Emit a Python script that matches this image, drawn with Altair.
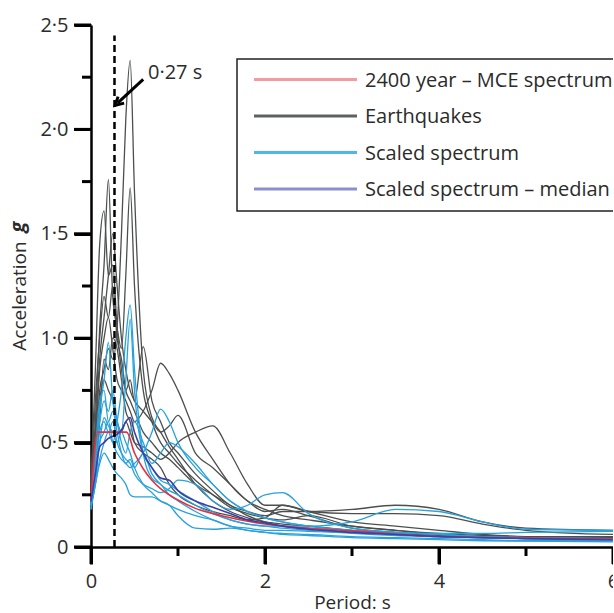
import altair as alt
import pandas as pd

# ---------------- data ----------------
periods = [0, 0.05, 0.1, 0.15, 0.2, 0.25, 0.3, 0.35, 0.4, 0.45, 0.5, 0.6, 0.7, 0.8, 0.9,
           1.0, 1.2, 1.4, 1.6, 1.8, 2.0, 2.2, 2.5, 3.0, 3.5, 4.0, 4.5, 5.0, 6.0]

eq1 = [0.28, 0.45, 0.75, 0.85, 0.95, 0.9, 1.05, 1.5, 2.05, 2.33, 1.7, 0.85, 0.62, 0.55, 0.48, 0.42, 0.3, 0.22, 0.17, 0.14, 0.12, 0.11, 0.10, 0.08, 0.065, 0.055, 0.05, 0.045, 0.04]
eq2 = [0.32, 0.6, 1.05, 1.35, 1.76, 1.2, 1.05, 0.95, 1.3, 1.72, 1.25, 0.75, 0.6, 0.5, 0.45, 0.4, 0.32, 0.25, 0.19, 0.16, 0.14, 0.13, 0.15, 0.1, 0.08, 0.065, 0.055, 0.05, 0.045]
eq3 = [0.3, 0.85, 1.45, 1.61, 1.3, 1.35, 1.05, 0.85, 0.75, 0.8, 0.7, 0.96, 0.7, 0.6, 0.5, 0.45, 0.35, 0.27, 0.2, 0.17, 0.15, 0.17, 0.17, 0.18, 0.2, 0.18, 0.12, 0.09, 0.08]
eq4 = [0.25, 0.5, 0.85, 1.0, 1.1, 0.95, 0.8, 0.75, 0.7, 0.65, 0.6, 0.65, 0.75, 0.88, 0.83, 0.75, 0.55, 0.42, 0.3, 0.22, 0.18, 0.15, 0.13, 0.1, 0.08, 0.06, 0.05, 0.045, 0.04]
eq5 = [0.22, 0.45, 0.7, 0.8, 0.75, 0.7, 0.6, 0.55, 0.6, 0.55, 0.5, 0.48, 0.45, 0.42, 0.45, 0.5, 0.55, 0.58, 0.45, 0.3, 0.2, 0.2, 0.17, 0.16, 0.16, 0.15, 0.11, 0.08, 0.06]
eq6 = [0.3, 0.7, 1.0, 1.2, 1.1, 1.25, 1.0, 0.9, 0.75, 0.7, 0.65, 0.55, 0.5, 0.45, 0.42, 0.38, 0.3, 0.25, 0.2, 0.15, 0.12, 0.1, 0.09, 0.07, 0.06, 0.05, 0.045, 0.04, 0.035]
eq7 = [0.25, 0.55, 0.9, 1.1, 1.3, 1.5, 1.25, 1.0, 0.85, 0.75, 0.7, 0.65, 0.6, 0.55, 0.58, 0.63, 0.45, 0.38, 0.3, 0.22, 0.17, 0.18, 0.15, 0.09, 0.07, 0.06, 0.05, 0.045, 0.04]
eq8 = [0.2, 0.4, 0.6, 0.9, 0.85, 1.0, 0.95, 0.8, 0.65, 0.6, 0.5, 0.45, 0.42, 0.38, 0.3, 0.25, 0.2, 0.17, 0.15, 0.13, 0.14, 0.2, 0.17, 0.12, 0.1, 0.08, 0.06, 0.05, 0.05]

sc1 = [0.2, 0.3, 0.42, 0.5, 0.55, 0.5, 0.6, 0.75, 1.0, 1.16, 0.85, 0.45, 0.33, 0.3, 0.25, 0.22, 0.17, 0.13, 0.1, 0.08, 0.07, 0.06, 0.055, 0.045, 0.04, 0.035, 0.03, 0.028, 0.025]
sc2 = [0.2, 0.4, 0.65, 0.8, 0.98, 0.7, 0.6, 0.55, 0.8, 1.09, 0.75, 0.45, 0.38, 0.32, 0.3, 0.27, 0.22, 0.17, 0.13, 0.11, 0.1, 0.09, 0.08, 0.065, 0.055, 0.05, 0.045, 0.04, 0.035]
sc3 = [0.2, 0.3, 0.5, 0.55, 0.6, 0.5, 0.45, 0.42, 0.4, 0.38, 0.4, 0.45, 0.55, 0.66, 0.6, 0.5, 0.38, 0.3, 0.22, 0.17, 0.14, 0.12, 0.1, 0.08, 0.06, 0.05, 0.045, 0.04, 0.035]
sc4 = [0.18, 0.45, 0.7, 0.75, 0.6, 0.65, 0.55, 0.45, 0.4, 0.42, 0.38, 0.45, 0.35, 0.3, 0.27, 0.25, 0.2, 0.16, 0.13, 0.11, 0.1, 0.1, 0.1, 0.12, 0.18, 0.17, 0.12, 0.085, 0.08]
sc5 = [0.2, 0.35, 0.55, 0.6, 0.55, 0.6, 0.5, 0.45, 0.42, 0.4, 0.35, 0.3, 0.28, 0.26, 0.28, 0.32, 0.3, 0.22, 0.18, 0.2, 0.25, 0.26, 0.16, 0.09, 0.07, 0.06, 0.05, 0.045, 0.04]
sc6 = [0.18, 0.3, 0.4, 0.45, 0.42, 0.38, 0.35, 0.33, 0.3, 0.25, 0.24, 0.24, 0.24, 0.22, 0.2, 0.15, 0.09, 0.085, 0.09, 0.08, 0.07, 0.065, 0.06, 0.05, 0.045, 0.04, 0.035, 0.03, 0.03]
sc7 = [0.22, 0.45, 0.6, 0.7, 0.65, 0.75, 0.6, 0.5, 0.45, 0.55, 0.6, 0.5, 0.4, 0.45, 0.5, 0.48, 0.4, 0.3, 0.22, 0.17, 0.14, 0.12, 0.1, 0.08, 0.07, 0.06, 0.05, 0.045, 0.04]
sc8 = [0.2, 0.38, 0.5, 0.62, 0.58, 0.55, 0.5, 0.55, 0.5, 0.45, 0.38, 0.3, 0.26, 0.22, 0.2, 0.18, 0.15, 0.13, 0.1, 0.09, 0.08, 0.08, 0.075, 0.07, 0.065, 0.065, 0.065, 0.07, 0.075]

median = [0.22, 0.35, 0.48, 0.5, 0.52, 0.53, 0.54, 0.56, 0.6, 0.62, 0.55, 0.45, 0.38, 0.33, 0.32, 0.27, 0.22, 0.19, 0.16, 0.13, 0.115, 0.1, 0.085, 0.07, 0.06, 0.05, 0.045, 0.04, 0.035]

mce_periods = [0, 0.077, 0.41, 0.5, 0.6, 0.7, 0.8, 1.0, 1.2, 1.5, 2.0, 2.5, 3.0, 4.0, 5.0, 6.0]
mce_values = [0.22, 0.55, 0.55, 0.45, 0.375, 0.32, 0.28, 0.225, 0.185, 0.15, 0.11, 0.09, 0.077, 0.05, 0.043, 0.038]

legend_labels = ["2400 year \u2013 MCE spectrum", "Earthquakes", "Scaled spectrum", "Scaled spectrum \u2013 median"]

marker_period = 0.27
marker_top = 2.45
arrow_tail = (0.6, 2.24)
arrow_tip = (0.278, 2.115)
marker_label = "0\u00b727 s"
marker_label_pos = (0.655, 2.27)

x_major = [0, 2, 4, 6]
x_minor = [1, 3, 5]
y_major = [0, 0.5, 1.0, 1.5, 2.0, 2.5]
y_minor = [0.25, 0.75, 1.25, 1.75, 2.25]

# ---------------- tables ----------------
def long_table(curves, group):
    rows = []
    for i, c in enumerate(curves):
        for p, v in zip(periods, c):
            rows.append({"period": p, "accel": v, "curve": f"{group}{i}"})
    return pd.DataFrame(rows)

eq_df = long_table([eq1, eq2, eq3, eq4, eq5, eq6, eq7, eq8], "eq")
sc_df = long_table([sc1, sc2, sc3, sc4, sc5, sc6, sc7, sc8], "sc")
med_df = pd.DataFrame({"period": periods, "accel": median})
mce_df = pd.DataFrame({"period": mce_periods, "accel": mce_values})

FONT = "Open Sans"
TXT = "#2b2b2b"
FS = 20
W, H = 522, 522

xscale = alt.Scale(domain=[0, 6], nice=False, zero=False)
yscale = alt.Scale(domain=[0, 2.5], nice=False)

x_axis = alt.Axis(
    values=x_major, title="Period: s", format="d",
    tickSize=17, tickWidth=3, tickColor="black", domainColor="black", domainWidth=2.5,
    labelPadding=7, labelFont=FONT, labelFontSize=FS, labelColor=TXT, labelFlush=False,
    titlePadding=2, titleFont=FONT, titleFontSize=19, titleFontWeight="normal", titleColor=TXT,
    grid=False,
)
y_axis = alt.Axis(
    values=y_major, title=None,
    labelExpr="datum.value === 0 ? '0' : replace(format(datum.value, '.1f'), '.', '\u00b7')",
    tickSize=17, tickWidth=3, tickColor="black", domainColor="black", domainWidth=2.5,
    labelPadding=6, labelFont=FONT, labelFontSize=FS, labelColor=TXT, labelFlush=False,
    grid=False,
)

X = alt.X("period:Q", scale=xscale, axis=x_axis)
Y = alt.Y("accel:Q", scale=yscale, axis=y_axis)

eq_layer = alt.Chart(eq_df).mark_line(color="#4d4f4f", strokeWidth=1.3, interpolate="monotone").encode(
    x=X, y=Y, detail="curve:N")
sc_layer = alt.Chart(sc_df).mark_line(color="#27a2dc", strokeWidth=1.3, interpolate="monotone").encode(
    x="period:Q", y="accel:Q", detail="curve:N")
mce_layer = alt.Chart(mce_df).mark_line(color="#e8303e", strokeWidth=1.6, interpolate="monotone").encode(
    x="period:Q", y="accel:Q")
med_layer = alt.Chart(med_df).mark_line(color="#3d3ea8", strokeWidth=1.6, interpolate="monotone").encode(
    x="period:Q", y="accel:Q")

# explicit tick marks (as in a standalone test that rendered them)
xmaj = alt.Chart(pd.DataFrame({"v": x_major})).mark_rule(color="black", strokeWidth=3).encode(
    x="v:Q", y=alt.value(H), y2=alt.value(H + 17))
xmin = alt.Chart(pd.DataFrame({"v": x_minor})).mark_rule(color="black", strokeWidth=3).encode(
    x="v:Q", y=alt.value(H), y2=alt.value(H + 9))
ymaj = alt.Chart(pd.DataFrame({"v": y_major})).mark_rule(color="black", strokeWidth=3).encode(
    y="v:Q", x=alt.value(0), x2=alt.value(-17))
ymin = alt.Chart(pd.DataFrame({"v": y_minor})).mark_rule(color="black", strokeWidth=3).encode(
    y="v:Q", x=alt.value(0), x2=alt.value(-9))

marker_df = pd.DataFrame({"period": [marker_period], "y0": [0], "y1": [marker_top]})
dash_layer = alt.Chart(marker_df).mark_rule(color="black", strokeWidth=2.5, strokeDash=[7, 4]).encode(
    x="period:Q", y="y0:Q", y2="y1:Q")

arrow_df = pd.DataFrame({"x0": [arrow_tail[0]], "y0": [arrow_tail[1]], "x1": [arrow_tip[0] + 0.03], "y1": [arrow_tip[1] + 0.012]})
arrow_line = alt.Chart(arrow_df).mark_rule(color="black", strokeWidth=3).encode(
    x="x0:Q", y="y0:Q", x2="x1:Q", y2="y1:Q")
head_df = pd.DataFrame({"x": [arrow_tip[0]], "y": [arrow_tip[1]]})
arrow_head = alt.Chart(head_df).mark_point(
    shape="M-0.55,-1L0,0L0.55,-1", filled=False, stroke="black", strokeWidth=3,
    size=260, angle=47, opacity=1
).encode(x="x:Q", y="y:Q")

label_df = pd.DataFrame({"x": [marker_label_pos[0]], "y": [marker_label_pos[1]], "t": [marker_label]})
marker_text = alt.Chart(label_df).mark_text(
    align="left", baseline="middle", font=FONT, fontSize=FS, color=TXT
).encode(x="x:Q", y="y:Q", text="t:N")

# y-axis title (with bold italic g)
ytitle_a = alt.Chart(pd.DataFrame({"t": ["Acceleration"]})).mark_text(
    angle=270, align="center", baseline="middle", font=FONT, fontSize=19, color=TXT
).encode(x=alt.value(-71), y=alt.value(271), text="t:N")
ytitle_b = alt.Chart(pd.DataFrame({"t": ["g"]})).mark_text(
    angle=270, align="center", baseline="middle", font=FONT, fontSize=20,
    fontStyle="italic", fontWeight="bold", color=TXT
).encode(x=alt.value(-73), y=alt.value(202), text="t:N")

# legend (manual, one small layer per entry)
leg_colors = ["#f39aa3", "#5f6161", "#4cb8e8", "#8a8fd0"]
leg_box = alt.Chart(pd.DataFrame({"a": [0]})).mark_rect(
    fill="white", stroke="#222", strokeWidth=1.5
).encode(x=alt.value(146), x2=alt.value(540), y=alt.value(34), y2=alt.value(186))
leg_layers = []
for i, (lab, col) in enumerate(zip(legend_labels, leg_colors)):
    d = pd.DataFrame({"label": [lab]})
    leg_layers.append(alt.Chart(d).mark_rule(strokeWidth=3, color=col).encode(
        x=alt.value(163), x2=alt.value(266), y=alt.value(54.5 + 36.5 * i)))
    leg_layers.append(alt.Chart(d).mark_text(
        align="left", baseline="middle", font=FONT, fontSize=FS, color=TXT).encode(
        x=alt.value(274), y=alt.value(55.5 + 36.5 * i), text="label:N"))

chart = alt.layer(
    eq_layer, sc_layer, mce_layer, med_layer,
    dash_layer, arrow_line, arrow_head, marker_text, ytitle_a, ytitle_b, leg_box, *leg_layers,
    xmaj, xmin, ymaj, ymin,
).properties(
    width=W, height=H,
    autosize=alt.AutoSizeParams(type="none"),
    padding={"left": 91, "top": 25, "right": 0, "bottom": 66},
).configure_view(stroke=None)

chart.save("out.html", embed_options={"renderer": "svg", "actions": False})
